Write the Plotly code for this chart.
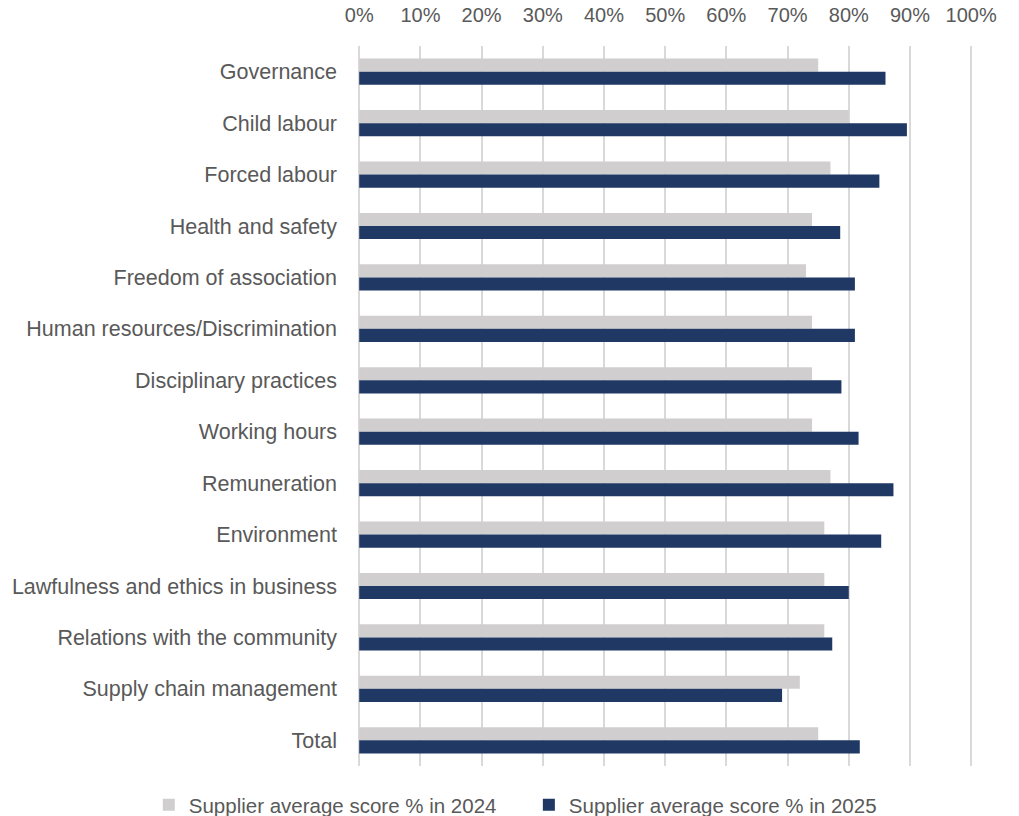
import plotly.graph_objects as go

categories = [
    "Governance", "Child labour", "Forced labour", "Health and safety",
    "Freedom of association", "Human resources/Discrimination",
    "Disciplinary practices", "Working hours", "Remuneration", "Environment",
    "Lawfulness and ethics in business", "Relations with the community",
    "Supply chain management", "Total",
]
score_2024 = [75, 80, 77, 74, 73, 74, 74, 74, 77, 76, 76, 76, 72, 75]
score_2025 = [86, 89.5, 85, 78.6, 81, 81, 78.8, 81.6, 87.3, 85.3, 80, 77.3, 69.1, 81.8]
tick_values = [0, 10, 20, 30, 40, 50, 60, 70, 80, 90, 100]
tick_labels = ["0%", "10%", "20%", "30%", "40%", "50%", "60%", "70%", "80%", "90%", "100%"]

FONT = "Liberation Sans"
TEXT = "#595959"

fig = go.Figure()
fig.add_trace(go.Bar(
    y=categories, x=score_2024, orientation="h",
    name="Supplier average score % in 2024",
    marker=dict(color="#d0cece", line=dict(width=0)),
    legend="legend", showlegend=True,
))
fig.add_trace(go.Bar(
    y=categories, x=score_2025, orientation="h",
    name="Supplier average score % in 2025",
    marker=dict(color="#1f3864", line=dict(width=0)),
    legend="legend2", showlegend=True,
))

legend_style = dict(
    orientation="h", xref="container", yref="paper",
    xanchor="left", y=-0.054, yanchor="middle",
    font=dict(size=20.5, color=TEXT), itemwidth=30,
    bgcolor="rgba(0,0,0,0)", visible=True,
)

fig.update_layout(
    width=1019, height=816,
    margin=dict(l=358, r=46, t=46, b=50, autoexpand=False),
    paper_bgcolor="white", plot_bgcolor="white",
    showlegend=True,
    barmode="group", bargap=0.49, bargroupgap=0,
    font=dict(family=FONT, size=20, color=TEXT),
    legend=dict(x=0.146, **legend_style),
    legend2=dict(x=0.519, **legend_style),
)
# small padding on both ends so the 0% and 100% gridlines are drawn
fig.update_xaxes(
    side="top", range=[-0.2, 100.3], tickvals=tick_values, ticktext=tick_labels,
    showgrid=True, gridcolor="#d9d9d9", gridwidth=2,
    zeroline=False, showline=False, ticks="",
    ticklabelstandoff=19, fixedrange=True,
)
fig.update_yaxes(
    autorange="reversed", showgrid=False, showline=False, ticks="",
    ticklabelstandoff=20, tickfont=dict(size=21.5), fixedrange=True,
)

fig.write_html("out.html")
